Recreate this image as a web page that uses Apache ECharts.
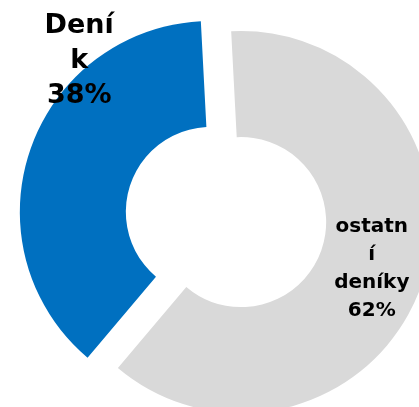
<!DOCTYPE html>
<html>
<head>
<meta charset="utf-8">
<script src="https://cdn.jsdelivr.net/npm/echarts@6/dist/echarts.min.js"></script>
<style>
html,body{margin:0;padding:0;background:#fff;}
#chart{width:419px;height:407px;}
</style>
</head>
<body>
<div id="chart"></div>
<script>
var categories = ["Deník", "ostatní deníky"];
var values = [38, 62];
var labelLines = [["Dení", "k"], ["ostatn", "í", "deníky"]];
var colors = ["#0070C0", "#D9D9D9"];

var chart = echarts.init(document.getElementById('chart'), null, {renderer: 'canvas'});

var data = categories.map(function (c, i) {
  return {
    name: c,
    value: values[i],
    selected: true,
    itemStyle: {color: colors[i]},
    label: i === 0 ? {
      fontSize: 27,
      lineHeight: 35
    } : {
      fontSize: 20,
      lineHeight: 28
    }
  };
});

chart.setOption({
  animation: false,
  backgroundColor: '#ffffff',
  series: [{
    type: 'pie',
    center: [226, 217],
    radius: [85, 191],
    startAngle: 93,
    clockwise: false,
    selectedMode: 'multiple',
    selectedOffset: 16,
    emphasis: {disabled: true},
    label: {
      show: true,
      position: 'inside',
      color: '#000000',
      fontFamily: 'DejaVu Sans',
      fontWeight: 'bold',
      align: 'center',
      formatter: function (p) {
        return labelLines[p.dataIndex].join('\n') + '\n' + p.value + '%';
      }
    },
    labelLayout: function (p) {
      return p.dataIndex === 0 ? {dx: 2, dy: -106} : {dx: -3, dy: 2};
    },
    labelLine: {show: false},
    data: data
  }]
});
</script>
</body>
</html>
